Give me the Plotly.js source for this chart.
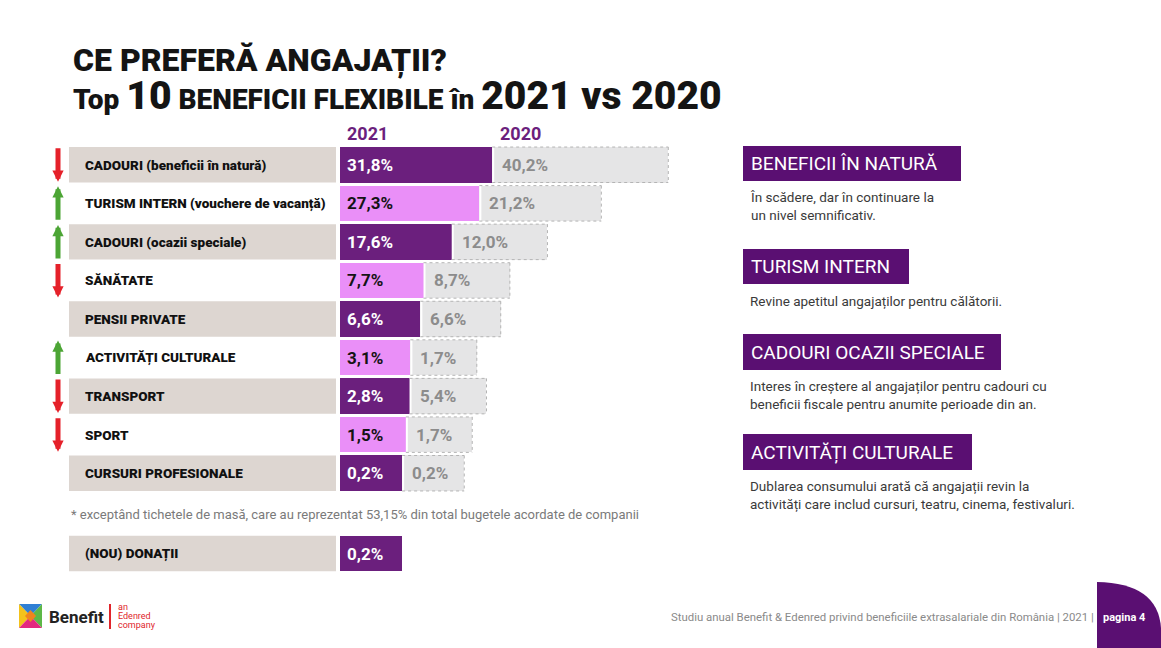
<!DOCTYPE html>
<html>
<head>
<meta charset="utf-8">
<script src="https://cdn.plot.ly/plotly-3.0.1.min.js"></script>
<style>
html,body{margin:0;padding:0;background:#ffffff;}
#chart{width:1161px;height:648px;}
</style>
</head>
<body>
<div id="chart"></div>
<script>
// ---------------- DATA ----------------
const categories = [
  'CADOURI (beneficii în natură)',
  'TURISM INTERN (vouchere de vacanță)',
  'CADOURI (ocazii speciale)',
  'SĂNĂTATE',
  'PENSII PRIVATE',
  'ACTIVITĂȚI CULTURALE',
  'TRANSPORT',
  'SPORT',
  'CURSURI PROFESIONALE'
];
const values2021 = [31.8, 27.3, 17.6, 7.7, 6.6, 3.1, 2.8, 1.5, 0.2];
const values2020 = [40.2, 21.2, 12.0, 8.7, 6.6, 1.7, 5.4, 1.7, 0.2];
const seriesLabels = ['2021', '2020'];
const newCategory = ['(NOU) DONAȚII'];
const newValues2021 = [0.2];
const noteTitles = ['BENEFICII ÎN NATURĂ', 'TURISM INTERN', 'CADOURI OCAZII SPECIALE', 'ACTIVITĂȚI CULTURALE'];
const noteTexts = [
  'În scădere, dar în continuare la<br>un nivel semnificativ.',
  'Revine apetitul angajaților pentru călătorii.',
  'Interes în creștere al angajaților pentru cadouri cu<br>beneficii fiscale pentru anumite perioade din an.',
  'Dublarea consumului arată că angajații revin la<br>activități care includ cursuri, teatru, cinema, festivaluri.'
];
const titleLine1 = 'CE PREFERĂ ANGAJAȚII?';
const titleLine2Parts = ['Top', '10', 'BENEFICII FLEXIBILE în', '2021 vs 2020'];
const footnote = '* exceptând tichetele de masă, care au reprezentat 53,15% din total bugetele acordate de companii';
const footerText = 'Studiu anual Benefit &amp; Edenred privind beneficiile extrasalariale din România | 2021 |';
const footerPage = 'pagina 4';

// ---------------- STYLE ----------------
const W = 1161, H = 648;
const px = x => x / W;
const py = y => 1 - y / H;
const PXPU = 2.85;          // pixels per percentage point
const PAD = 21.6;           // minimum bar length (room for the label), in axis units
const XMAX = 130;
const DARK = '#6b1f7d', PINK = '#ea8ff8', BEIGE = '#ddd6d1', GRAY = '#e5e5e6';
const NOTE_BG = '#5a0f72';
const BOLDF = "Roboto, 'Liberation Sans', sans-serif";
const SANS = "Roboto, 'Noto Sans', sans-serif";
const HALF = 0.46;
const fmt = v => v.toFixed(1).replace('.', ',') + '%';
const sp = (t, s) => "<span style='font-size:" + s + "px'>" + t + '</span>';

const rowColors = categories.map((_, i) => i % 2 === 0 ? DARK : PINK);
const rowText = categories.map((_, i) => i % 2 === 0 ? '#ffffff' : '#141414');
const padArr = arr => arr.map(() => PAD);

const base = {type: 'bar', orientation: 'h', hoverinfo: 'skip', showlegend: false};
const traces = [
  Object.assign({}, base, {y: categories, x: padArr(categories), marker: {color: rowColors, line: {width: 0}}}),
  Object.assign({}, base, {y: categories, x: values2021, name: seriesLabels[0], marker: {color: rowColors, line: {width: 0}}}),
  Object.assign({}, base, {y: categories, x: padArr(categories), marker: {color: GRAY, line: {width: 0}}}),
  Object.assign({}, base, {y: categories, x: values2020, name: seriesLabels[1], marker: {color: GRAY, line: {width: 0}}}),
  Object.assign({}, base, {y: newCategory, x: padArr(newCategory), yaxis: 'y2', marker: {color: DARK, line: {width: 0}}}),
  Object.assign({}, base, {y: newCategory, x: newValues2021, yaxis: 'y2', marker: {color: DARK, line: {width: 0}}})
];

const shapes = [];
const annotations = [];

// label plates
categories.forEach((c, i) => {
  if (i % 2 === 0) {
    shapes.push({type: 'rect', layer: 'below', xref: 'paper', yref: 'y', x0: px(69), x1: px(336), y0: i - HALF, y1: i + HALF, fillcolor: BEIGE, line: {width: 0}});
  }
});
newCategory.forEach((c, i) => {
  shapes.push({type: 'rect', layer: 'below', xref: 'paper', yref: 'y2', x0: px(69), x1: px(336), y0: i - HALF, y1: i + HALF, fillcolor: BEIGE, line: {width: 0}});
});

// separators and dashed outlines of 2020 bars
categories.forEach((c, i) => {
  const s = PAD + values2021[i];
  const e = s + PAD + values2020[i];
  shapes.push({type: 'rect', xref: 'x', yref: 'y', xsizemode: 'pixel', xanchor: s, x0: 0, x1: 2, y0: i - 0.5, y1: i + 0.5, fillcolor: '#ffffff', line: {width: 0}});
  const dl = {color: '#b4b4b4', width: 1, dash: '3px,3px'};
  shapes.push({type: 'line', xref: 'x', yref: 'y', x0: s, x1: e, y0: i - HALF, y1: i - HALF, line: dl});
  shapes.push({type: 'line', xref: 'x', yref: 'y', x0: s, x1: e, y0: i + HALF, y1: i + HALF, line: dl});
  shapes.push({type: 'line', xref: 'x', yref: 'y', x0: e, x1: e, y0: i - HALF, y1: i + HALF, line: dl});
});

// row labels, values and trend arrows
categories.forEach((c, i) => {
  annotations.push({xref: 'paper', yref: 'y', x: px(83), y: c, xanchor: 'left', yanchor: 'middle', showarrow: false,
    text: c, font: {family: BOLDF, size: 13.5, weight: 900, color: '#111111'}});
  annotations.push({xref: 'x', yref: 'y', x: 0, y: c, xanchor: 'left', yanchor: 'middle', xshift: 5, showarrow: false,
    text: '<b>' + fmt(values2021[i]) + '</b>', font: {family: SANS, size: 17, color: rowText[i]}});
  annotations.push({xref: 'x', yref: 'y', x: PAD + values2021[i], y: c, xanchor: 'left', yanchor: 'middle', xshift: 8, showarrow: false,
    text: '<b>' + fmt(values2020[i]) + '</b>', font: {family: SANS, size: 17, color: '#8c8c8c'}});
  const d = values2021[i] - values2020[i];
  if (d !== 0) {
    const up = d > 0;
    annotations.push({xref: 'paper', yref: 'y', x: px(58), y: c, yshift: up ? 17 : -17, text: '', showarrow: true,
      ax: 0, ay: up ? 35 : -35, arrowhead: 2, arrowsize: 0.45, arrowwidth: 5,
      arrowcolor: up ? '#4ca535' : '#e5212a'});
  }
});
newCategory.forEach((c, i) => {
  annotations.push({xref: 'paper', yref: 'y2', x: px(83), y: c, xanchor: 'left', yanchor: 'middle', showarrow: false,
    text: c, font: {family: BOLDF, size: 13.5, weight: 900, color: '#111111'}});
  annotations.push({xref: 'x', yref: 'y2', x: 0, y: c, xanchor: 'left', yanchor: 'middle', xshift: 5, showarrow: false,
    text: '<b>' + fmt(newValues2021[i]) + '</b>', font: {family: SANS, size: 17, color: '#ffffff'}});
});

// column headers
annotations.push({xref: 'x', yref: 'paper', x: 0, y: py(133), xanchor: 'left', yanchor: 'middle', xshift: 5, showarrow: false,
  text: '<b>' + seriesLabels[0] + '</b>', font: {family: SANS, size: 18, color: DARK}});
annotations.push({xref: 'x', yref: 'paper', x: PAD + values2021[0], y: py(133), xanchor: 'left', yanchor: 'middle', xshift: 6, showarrow: false,
  text: '<b>' + seriesLabels[1] + '</b>', font: {family: SANS, size: 18, color: DARK}});

// title (two lines in one text block)
annotations.push({xref: 'paper', yref: 'paper', x: px(71), y: py(80), xanchor: 'left', yanchor: 'middle', showarrow: false, align: 'left',
  text: sp(titleLine1, 32) + '<br>' + sp(titleLine2Parts[0] + ' ', 28) + sp(titleLine2Parts[1], 39) +
        sp(' ' + titleLine2Parts[2] + ' ', 28) + sp(titleLine2Parts[3], 39),
  font: {family: BOLDF, size: 29, weight: 900, color: '#141414'}});

// footnote
annotations.push({xref: 'paper', yref: 'paper', x: px(69), y: py(514), xanchor: 'left', yanchor: 'middle', showarrow: false,
  text: footnote, font: {family: SANS, size: 13, color: '#7a7a7a'}});

// right-side notes
const noteBoxes = [[743, 961, 146, 181, 187], [743, 909, 249, 284, 291], [743, 1001, 334, 370, 376], [743, 972, 434, 470, 476]];
noteTitles.forEach((t, i) => {
  const b = noteBoxes[i];
  shapes.push({type: 'rect', xref: 'paper', yref: 'paper', x0: px(b[0]), x1: px(b[1]), y0: py(b[3]), y1: py(b[2]), fillcolor: NOTE_BG, line: {width: 0}});
  annotations.push({xref: 'paper', yref: 'paper', x: px(b[0] + 6), y: py((b[2] + b[3]) / 2), xanchor: 'left', yanchor: 'middle', showarrow: false,
    text: t, font: {family: SANS, size: 19, color: '#ffffff'}});
  annotations.push({xref: 'paper', yref: 'paper', x: px(b[0] + 5), y: py(b[4]), xanchor: 'left', yanchor: 'top', showarrow: false, align: 'left',
    text: noteTexts[i], font: {family: SANS, size: 13.5, color: '#3a3a3a'}});
});

// footer
shapes.push({type: 'path', xref: 'paper', yref: 'paper',
  path: 'M' + px(1097) + ',' + py(648) + ' L' + px(1097) + ',' + py(582) + ' Q' + px(1158) + ',' + py(583) + ' ' + px(1161) + ',' + py(628) + ' L' + px(1161) + ',' + py(648) + ' Z',
  fillcolor: NOTE_BG, line: {width: 0}});
annotations.push({xref: 'paper', yref: 'paper', x: px(1096), y: py(617), xanchor: 'right', yanchor: 'middle', showarrow: false,
  text: footerText, font: {family: SANS, size: 11.4, color: '#8a8a8a'}});
annotations.push({xref: 'paper', yref: 'paper', x: px(1101), y: py(617), xanchor: 'left', yanchor: 'middle', showarrow: false,
  text: '<b>' + footerPage + '</b>', font: {family: SANS, size: 11, color: '#ffffff'}});

// logo
const tri = (pts, col) => shapes.push({type: 'path', xref: 'paper', yref: 'paper',
  path: 'M' + pts.map(p => px(p[0]) + ',' + py(p[1])).join(' L') + ' Z', fillcolor: col, line: {width: 0}});
tri([[19, 604], [42, 604], [30.5, 616]], '#2f7fd4');
tri([[19, 604], [19, 628], [30.5, 616]], '#f3c21b');
tri([[42, 604], [42, 628], [30.5, 616]], '#5db847');
tri([[19, 628], [42, 628], [30.5, 616]], '#e3287f');
tri([[25, 616], [30.5, 610], [36, 616], [30.5, 622]], '#f0841e');
annotations.push({xref: 'paper', yref: 'paper', x: px(47), y: py(617), xanchor: 'left', yanchor: 'middle', showarrow: false,
  text: '<b>Benefit</b>', font: {family: SANS, size: 17, color: '#222222'}});
shapes.push({type: 'line', xref: 'paper', yref: 'paper', x0: px(110), x1: px(110), y0: py(604), y1: py(629), line: {color: '#e0252b', width: 2}});
['an', 'Edenred', 'company'].forEach((t, i) => {
  annotations.push({xref: 'paper', yref: 'paper', x: px(116), y: py(607 + i * 9), xanchor: 'left', yanchor: 'middle', showarrow: false,
    text: t, font: {family: SANS, size: 9, color: '#e0252b'}});
});

const layout = {
  width: W, height: H,
  margin: {l: 0, r: 0, t: 0, b: 0, pad: 0},
  paper_bgcolor: '#ffffff', plot_bgcolor: 'rgba(0,0,0,0)',
  barmode: 'stack', bargap: 0.079,
  font: {family: SANS},
  xaxis: {domain: [px(340), px(340 + PXPU * XMAX)], range: [0, XMAX], visible: false, fixedrange: true},
  yaxis: {domain: [py(492.5), py(145.5)], type: 'category', categoryorder: 'array', categoryarray: categories,
          range: [categories.length - 0.5, -0.5], visible: false, fixedrange: true},
  yaxis2: {domain: [py(572.8), py(534.2)], type: 'category', range: [0.5, -0.5], visible: false, anchor: 'x', fixedrange: true},
  shapes: shapes,
  annotations: annotations
};

Plotly.newPlot('chart', traces, layout, {displayModeBar: false, staticPlot: true});
</script>
</body>
</html>
